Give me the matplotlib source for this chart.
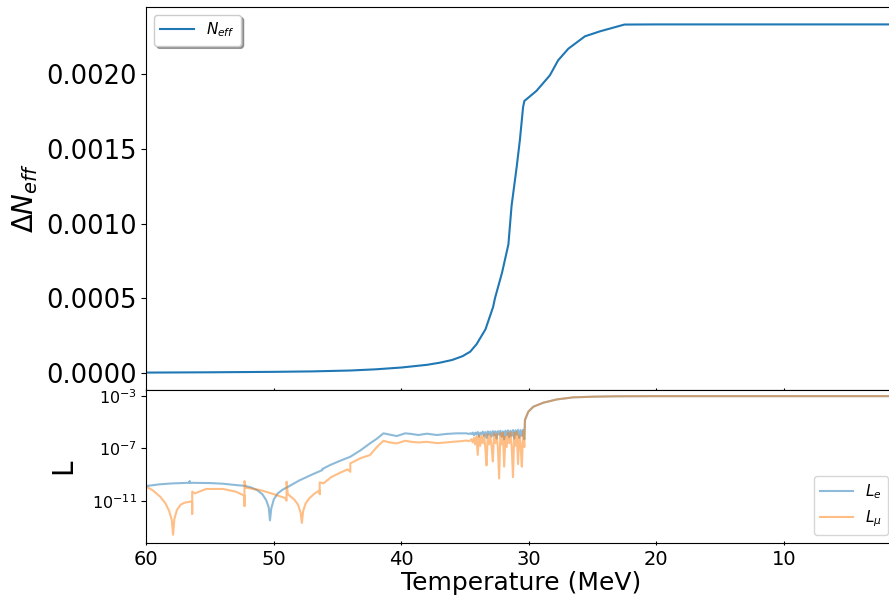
import numpy as np
import matplotlib
matplotlib.use("Agg")
import matplotlib.pyplot as plt
from matplotlib.ticker import NullLocator

# ---------------- data ----------------
# Delta N_eff vs temperature (MeV)
T_neff = [60, 55, 50, 47, 44, 42, 40, 38, 37, 36, 35.2, 34.6, 34.1, 33.4,
          32.8, 32.65, 32.1, 31.6, 31.35, 30.95, 30.7, 30.45, 30.35, 29.4,
          28.35, 27.7, 26.9, 25.6, 24.4, 22.5, 20, 10, 1.2]
d_neff = [0.0, 0.000002, 0.000005, 0.000008, 0.000014, 0.000022, 0.000034,
          0.000052, 0.000066, 0.000085, 0.00011, 0.00014, 0.00019, 0.00029,
          0.00044, 0.00050, 0.00067, 0.00086, 0.00112, 0.00138, 0.00156,
          0.00178, 0.001822, 0.00189, 0.001994, 0.002095, 0.002173, 0.002256,
          0.00229, 0.002335, 0.002336, 0.002336, 0.002336]

# lepton asymmetries, log10 values, before the oscillating stretch
T_e = [60, 59, 58, 57, 56.6, 56.6, 56.6, 55, 54, 53, 52.3, 51.8, 51.3, 50.9,
       50.6, 50.4, 50.3, 50.2, 50.0, 49.7, 49.3, 49.0, 48.0, 47.0, 46.2, 46.2,
       45.6, 44.8, 44.0, 43.2, 42.46, 41.9, 41.4, 40.9, 40.36, 39.7, 39.2,
       38.66, 38.0, 37.2, 36.5, 35.65, 34.9, 34.7]
logL_e = [-9.88, -9.75, -9.68, -9.64, -9.63, -9.52, -9.63, -9.65, -9.70,
          -9.80, -9.86, -9.98, -10.19, -10.5, -10.95, -11.5, -12.5, -11.6,
          -10.9, -10.45, -10.15, -10.0, -9.45, -9.0, -8.66, -8.58, -8.28,
          -7.95, -7.64, -7.15, -6.62, -6.25, -5.85, -5.95, -6.06, -5.85,
          -5.9, -5.98, -5.88, -5.98, -5.9, -5.85, -5.85, -5.9]

T_mu = [60, 59.5, 58.9, 58.5, 58.2, 58.0, 57.9, 57.8, 57.6, 57.3,
        57.0, 56.6, 56.4, 56.4, 56.4, 56.2, 55.3, 54.0, 53.0, 52.4,
        52.3, 52.3, 52.3, 52.2, 51.0, 50.0, 49.1, 49.0, 49.0, 48.9,
        48.4, 48.1, 47.9, 47.8, 47.7, 47.5, 47.2, 46.8, 46.4, 46.4,
        46.4, 46.1, 45.5, 44.8, 44.2, 44.0, 44.0, 43.2, 42.46, 41.9,
        41.4, 40.9, 40.36, 39.7, 39.2, 38.66, 38.0, 37.2, 36.5, 36.0,
        35.3, 34.9, 34.7]
logL_mu = [-9.93, -10.2, -10.7, -11.2, -11.8, -12.5, -13.6, -12.4, -11.7, -11.3,
           -11.15, -11.08, -11.05, -12.0, -10.3, -10.44, -10.1, -10.1, -10.3, -10.57,
           -10.6, -11.4, -9.5, -10.0, -10.2, -10.5, -10.8, -11.0, -9.55, -10.5,
           -10.9, -11.3, -11.9, -12.7, -11.8, -11.2, -10.8, -10.45, -10.2, -10.5,
           -9.6, -9.67, -9.2, -8.86, -8.6, -8.79, -8.15, -7.75, -7.51, -6.88,
           -6.42, -6.55, -6.62, -6.42, -6.5, -6.55, -6.5, -6.6, -6.55, -6.5,
           -6.45, -6.4, -6.45]

# oscillating stretch between ~34.6 and ~30.35 MeV
T_osc = np.linspace(34.6, 30.35, 44)
logL_e_osc = [-5.85, -5.90, -5.80, -6.00, -5.80, -5.95, -5.75, -6.10, -5.80, -5.90,
              -5.72, -6.05, -5.75, -6.20, -5.70, -5.95, -5.72, -6.10, -5.68, -6.00,
              -5.70, -6.25, -5.68, -5.95, -5.65, -6.10, -5.70, -6.30, -5.65, -6.00,
              -5.62, -6.15, -5.65, -6.05, -5.60, -6.25, -5.62, -5.95, -5.58, -6.20,
              -5.60, -6.05, -5.58, -6.30]
logL_mu_osc = [-6.40, -6.30, -6.55, -6.20, -6.70, -6.10, -7.50, -6.00, -6.80, -6.05,
               -6.60, -5.95, -6.90, -8.30, -5.90, -6.70, -6.00, -6.85, -8.00, -5.85,
               -6.60, -5.90, -6.95, -9.30, -5.85, -6.70, -5.80, -8.40, -6.10, -6.90,
               -5.80, -6.60, -5.75, -6.95, -9.20, -5.80, -6.80, -5.75, -8.20, -6.00,
               -6.70, -8.40, -5.70, -6.90]

# common rise and plateau below 30 MeV
T_tail = [30.3, 30.04, 29.65, 28.86, 27.8, 26.5, 24.9, 23.1, 20, 10, 1.2]
logL_tail = [-4.83, -4.2, -3.82, -3.51, -3.26, -3.1, -3.05, -3.02, -3.01, -3.01, -3.01]

# ---------------- assemble ----------------
Te_all = np.concatenate([T_e, T_osc, T_tail])
Le_all = 10.0 ** np.concatenate([logL_e, logL_e_osc, logL_tail])
Tmu_all = np.concatenate([T_mu, T_osc, T_tail])
Lmu_all = 10.0 ** np.concatenate([logL_mu, logL_mu_osc, logL_tail])

# ---------------- plot ----------------
fig = plt.figure(figsize=(8.89, 5.99), dpi=100)
x0 = 146.3 / 889
w = (896 - 146.3) / 889
ax1 = fig.add_axes([x0, 1 - 390 / 599, w, (390 - 7) / 599])
ax2 = fig.add_axes([x0, 1 - 543 / 599, w, (543 - 390) / 599], sharex=ax1)

ax1.plot(T_neff, d_neff, color="C0", lw=1.5, label=r"$N_{eff}$")
ax1.set_ylabel(r"$\Delta N_{eff}$", fontsize=20)
ax1.tick_params(axis="y", labelsize=18.5)
ax1.tick_params(axis="x", direction="inout", labelbottom=False)
ax1.set_yticks([0.0, 0.0005, 0.0010, 0.0015, 0.0020])
ax1.set_yticklabels(["0.0000", "0.0005", "0.0010", "0.0015", "0.0020"])
ax1.legend(loc="upper left", shadow=True, fontsize=11, handlelength=2.2)

ax2.plot(Te_all, Le_all, color="C0", alpha=0.5, lw=1.5, label=r"$L_e$")
ax2.plot(Tmu_all, Lmu_all, color="C1", alpha=0.5, lw=1.5, label=r"$L_\mu$")
ax2.set_yscale("log")
ax2.set_ylim(10 ** -14.23, 10 ** -2.54)
ax2.set_yticks([1e-3, 1e-7, 1e-11])
ax2.yaxis.set_minor_locator(NullLocator())
ax2.tick_params(axis="y", labelsize=11.5)
ax2.tick_params(axis="x", direction="inout", labelsize=14)
ax2.set_ylabel("L", fontsize=20, labelpad=10)
ax2.set_xlabel("Temperature (MeV)", fontsize=18, labelpad=1)
ax2.legend(loc="lower right", fontsize=11, handlelength=2.2)

ax2.set_xlim(60, 1.2)
ax2.set_xticks([60, 50, 40, 30, 20, 10])

fig.savefig("out.png", dpi=100)
